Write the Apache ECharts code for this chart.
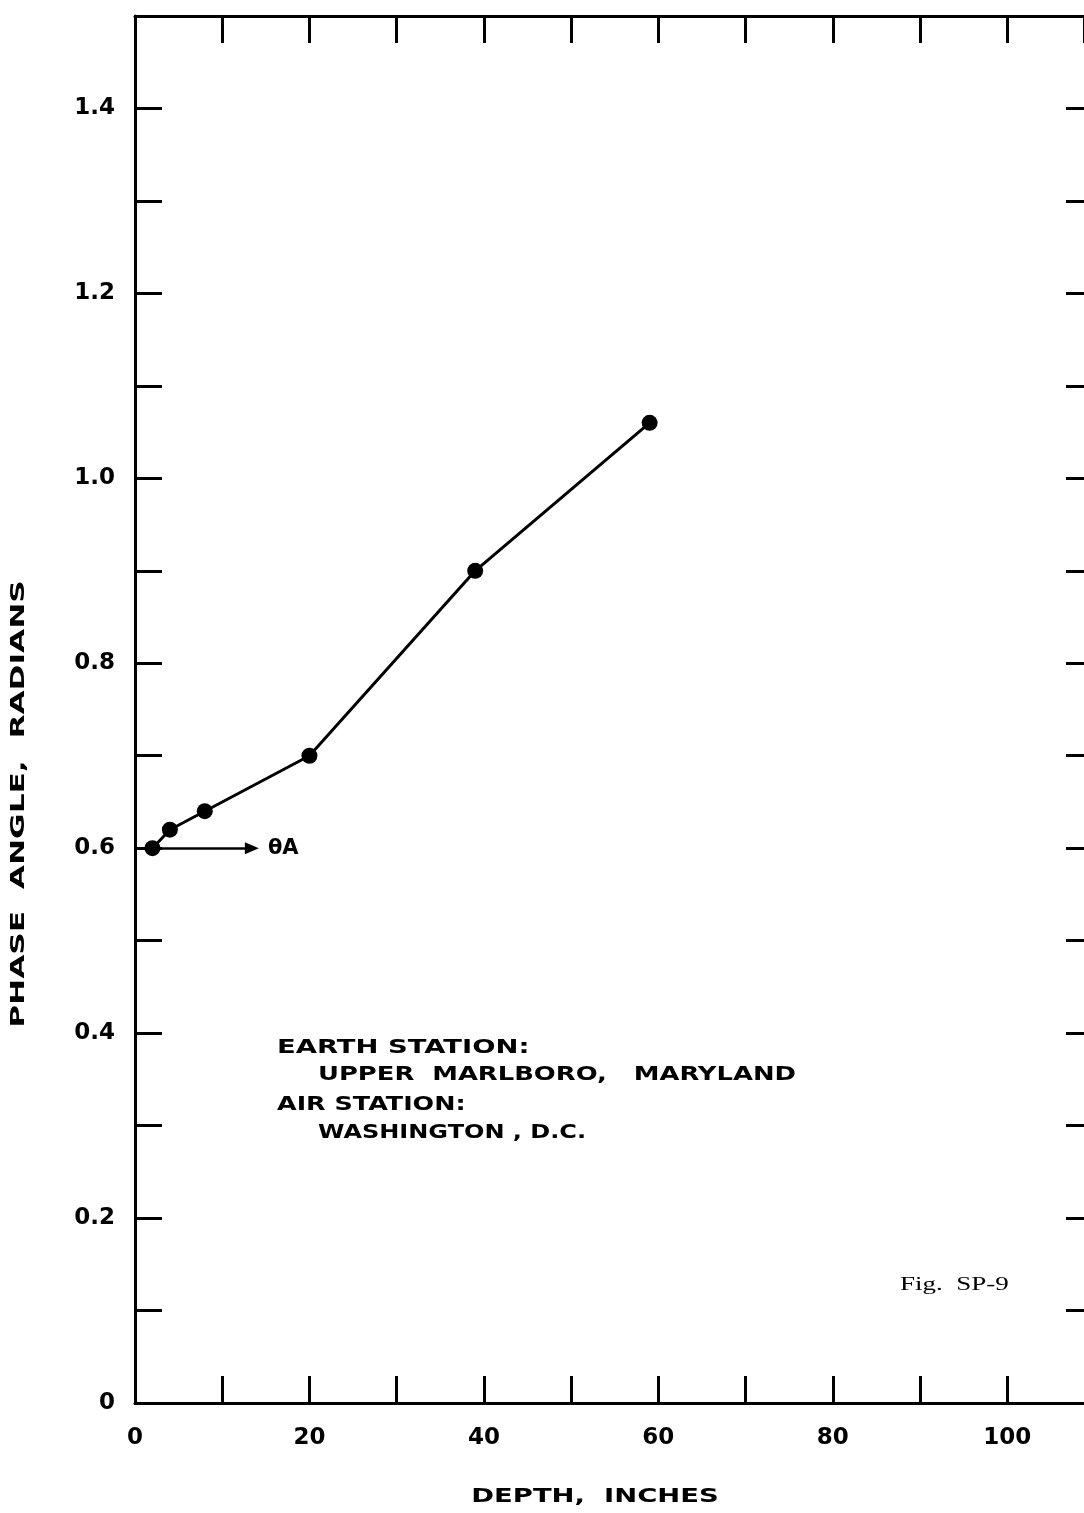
<!DOCTYPE html>
<html>
<head>
<meta charset="utf-8">
<script src="https://cdn.jsdelivr.net/npm/echarts@6/dist/echarts.min.js"></script>
<style>
html,body{margin:0;padding:0;background:#fff;}
#chart{width:1084px;height:1513px;}
</style>
</head>
<body>
<div id="chart"></div>
<script>
// ---- data ----
const depthInches = [2, 4, 8, 20, 39, 59];
const phaseRadians = [0.60, 0.62, 0.64, 0.70, 0.90, 1.06];
const xTickLabels = {0: '0', 20: '20', 40: '40', 60: '60', 80: '80', 100: '100'};
const yTickLabels = {0: '0', 2: '0.2', 4: '0.4', 6: '0.6', 8: '0.8', 10: '1.0', 12: '1.2', 14: '1.4'};
const arrowFrom = [2, 0.60];
const arrowTo = [13.4, 0.60];
const arrowLabel = 'θA';
const noteLines = ['EARTH STATION:', 'UPPER  MARLBORO,   MARYLAND', 'AIR STATION:', 'WASHINGTON , D.C.'];
const xTitle = 'DEPTH,  INCHES';
const yTitle = 'PHASE  ANGLE,  RADIANS';
const figLabel = 'Fig.  SP-9';

const chart = echarts.init(document.getElementById('chart'), null, {renderer: 'canvas'});
const FONT = 'DejaVu Sans';
const axisLine = {show: true, onZero: false, lineStyle: {color: '#000', width: 3}};
const tick = {show: true, inside: true, length: 27, lineStyle: {color: '#000', width: 3}};

const seriesData = depthInches.map((d, i) => [d, phaseRadians[i]]);

const noteStyle = {fill: '#000', font: 'bold 20px "DejaVu Sans"', textVerticalAlign: 'middle'};

chart.setOption({
  animation: false,
  backgroundColor: '#fff',
  grid: {left: 135, top: 16, right: 0, height: 1387, containLabel: false},
  xAxis: [{
    type: 'value', min: 0, max: 108.8, interval: 10, position: 'bottom',
    axisLine, axisTick: tick, splitLine: {show: false},
    axisLabel: {
      show: true, margin: 24, color: '#000', fontFamily: FONT, fontWeight: 'bold', fontSize: 23,
      showMaxLabel: false,
      formatter: v => (xTickLabels[Math.round(v)] !== undefined && Math.abs(v - Math.round(v)) < 1e-6 ? xTickLabels[Math.round(v)] : '')
    }
  }, {
    type: 'value', min: 0, max: 108.8, interval: 10, position: 'top',
    axisLine, axisTick: tick, splitLine: {show: false}, axisLabel: {show: false}
  }],
  yAxis: [{
    type: 'value', min: 0, max: 1.5, interval: 0.1, position: 'left',
    axisLine, axisTick: tick, splitLine: {show: false},
    axisLabel: {
      show: true, margin: 20, color: '#000', fontFamily: FONT, fontWeight: 'bold', fontSize: 23,
      formatter: v => { const k = Math.round(v * 10); return yTickLabels[k] !== undefined ? yTickLabels[k] : ''; }
    }
  }, {
    type: 'value', min: 0, max: 1.5, interval: 0.1, position: 'right',
    axisLine: {show: false, onZero: false},
    axisTick: {show: true, inside: true, length: 18, lineStyle: {color: '#000', width: 3}},
    splitLine: {show: false}, axisLabel: {show: false}
  }],
  series: [{
    type: 'line',
    data: seriesData,
    xAxisIndex: 0, yAxisIndex: 0,
    symbol: 'circle', symbolSize: 16,
    itemStyle: {color: '#000'},
    lineStyle: {color: '#000', width: 3},
    z: 5,
    markLine: {
      silent: true,
      symbol: ['none', 'triangle'],
      symbolSize: [12, 14],
      lineStyle: {color: '#000', width: 2.5, type: 'solid'},
      label: {show: true, position: 'end', distance: 16, formatter: arrowLabel, color: '#000',
              fontFamily: FONT, fontWeight: 'bold', fontSize: 21},
      data: [[{coord: arrowFrom}, {coord: arrowTo}]]
    }
  }],
  graphic: [
    {type: 'text', x: 277, y: 1048, scaleX: 1.37, style: Object.assign({text: noteLines[0]}, noteStyle)},
    {type: 'text', x: 318, y: 1075, scaleX: 1.29, style: Object.assign({text: noteLines[1]}, noteStyle)},
    {type: 'text', x: 277, y: 1105, scaleX: 1.27, style: Object.assign({text: noteLines[2]}, noteStyle)},
    {type: 'text', x: 318, y: 1133, scaleX: 1.2, style: Object.assign({text: noteLines[3]}, noteStyle)},
    {type: 'text', x: 595, y: 1497, scaleX: 1.37,
     style: {text: xTitle, fill: '#000', font: 'bold 20px "DejaVu Sans"', textAlign: 'center', textVerticalAlign: 'middle'}},
    {type: 'text', x: 19, y: 804, rotation: Math.PI / 2, scaleX: 1.56,
     style: {text: yTitle, fill: '#000', font: 'bold 20px "DejaVu Sans"', textAlign: 'center', textVerticalAlign: 'middle'}},
    {type: 'text', x: 900, y: 1285, scaleX: 1.5,
     style: {text: figLabel, fill: '#000', font: '18px "Liberation Serif"', textVerticalAlign: 'middle'}}
  ]
});
</script>
</body>
</html>
